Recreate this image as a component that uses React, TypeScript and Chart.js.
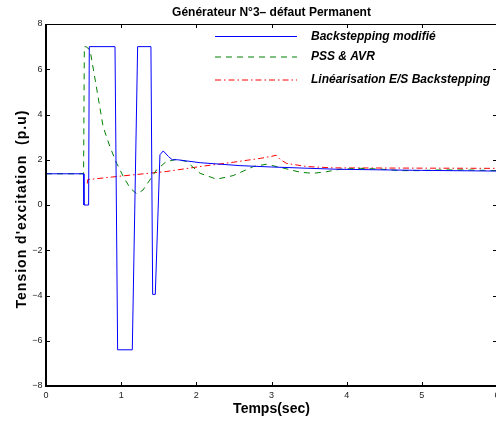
import React, { useEffect, useRef } from "react";
import { Chart, registerables } from "chart.js";

Chart.register(...registerables);

// ---- data ----
const titleText = "Générateur N°3– défaut Permanent";
const xLabel = "Temps(sec)";
const yLabel = "Tension d'excitation  (p.u)";
const seriesNames = ["Backstepping modifié", "PSS & AVR", "Linéarisation E/S Backstepping"];
const xTicks = [0, 1, 2, 3, 4, 5, 6];
const yTicks = [-8, -6, -4, -2, 0, 2, 4, 6, 8];

const tBack = [0, 0.5, 0.505, 0.567, 0.576, 0.918, 0.953, 1.148, 1.219, 1.396, 1.419, 1.454, 1.516, 1.56, 1.63, 1.68, 1.75, 2.05, 2.58, 3.0, 3.87, 5.0, 6.0];
const vBack = [1.38, 1.38, 0, 0, 7, 7, -6.4, -6.4, 7, 7, -3.95, -3.95, 2.22, 2.39, 2.14, 2.0, 2.0, 1.87, 1.74, 1.68, 1.58, 1.53, 1.5];

const tPss = [0, 0.5, 0.51, 0.53, 0.585, 0.67, 0.76, 0.85, 0.94, 1.03, 1.12, 1.21, 1.29, 1.38, 1.47, 1.6, 1.74, 1.87, 2.05, 2.27, 2.49, 2.76, 2.93, 3.11, 3.38, 3.55, 3.73, 3.91, 4.18, 4.44, 4.71, 4.97, 5.24, 5.59, 6.0];
const vPss = [1.38, 1.38, 7, 7, 6.86, 5.23, 3.46, 2.58, 1.84, 1.25, 0.74, 0.49, 0.66, 1.1, 1.55, 1.92, 2.02, 1.92, 1.4, 1.14, 1.3, 1.7, 1.8, 1.67, 1.45, 1.4, 1.47, 1.58, 1.62, 1.59, 1.52, 1.52, 1.55, 1.55, 1.52];

const tLin = [0.55, 0.555, 1.0, 1.6, 2.05, 2.49, 2.85, 3.0, 3.06, 3.12, 3.2, 3.47, 3.82, 6.0];
const vLin = [0.95, 1.12, 1.28, 1.48, 1.7, 1.89, 2.06, 2.15, 2.2, 2.0, 1.84, 1.7, 1.64, 1.62];

const colors = ["#0000ff", "#008000", "#ff0000"];
const dashes: number[][] = [[], [6, 5], [6, 3, 1.5, 3]];

const W = 520;
const H = 421;
const FONT = "'Liberation Sans', Arial, Helvetica, sans-serif";

const toPts = (t: number[], v: number[]) => t.map((x, i) => ({ x, y: v[i] }));

const framePlugin = {
  id: "matlabFrame",
  afterDatasetsDraw(chart: any) {
    const { ctx, chartArea: a, scales } = chart;
    const xs = scales.x;
    const ys = scales.y;
    ctx.save();
    ctx.strokeStyle = "#000";
    ctx.setLineDash([]);
    ctx.lineWidth = 1;
    ctx.beginPath();
    for (const t of xTicks) {
      const px = Math.round(xs.getPixelForValue(t)) + 0.5;
      ctx.moveTo(px, a.bottom);
      ctx.lineTo(px, a.bottom - 4);
      ctx.moveTo(px, a.top);
      ctx.lineTo(px, a.top + 4);
    }
    for (const v of yTicks) {
      const py = Math.round(ys.getPixelForValue(v)) + 0.5;
      ctx.moveTo(a.left, py);
      ctx.lineTo(a.left + 4, py);
      ctx.moveTo(a.right, py);
      ctx.lineTo(a.right - 4, py);
    }
    ctx.stroke();
    // frame
    ctx.lineWidth = 1;
    ctx.beginPath();
    ctx.moveTo(a.left, a.top + 0.5);
    ctx.lineTo(a.right, a.top + 0.5);
    ctx.moveTo(a.right + 0.5, a.top);
    ctx.lineTo(a.right + 0.5, a.bottom);
    ctx.stroke();
    ctx.lineWidth = 2;
    ctx.beginPath();
    ctx.moveTo(a.left, a.top);
    ctx.lineTo(a.left, a.bottom);
    ctx.lineTo(a.right + 1, a.bottom);
    ctx.stroke();

    // legend
    const ly = [36.5, 57, 80];
    for (let i = 0; i < 3; i++) {
      ctx.strokeStyle = colors[i];
      ctx.lineWidth = 1;
      ctx.setLineDash(dashes[i]);
      ctx.beginPath();
      ctx.moveTo(215, ly[i]);
      ctx.lineTo(297, ly[i]);
      ctx.stroke();
      ctx.setLineDash([]);
      ctx.fillStyle = "#000";
      ctx.font = `italic bold 12px ${FONT}`;
      ctx.textAlign = "left";
      ctx.textBaseline = "middle";
      ctx.fillText(seriesNames[i], 311, ly[i]);
    }

    // title
    ctx.fillStyle = "#000";
    ctx.font = `bold 12px ${FONT}`;
    ctx.textAlign = "center";
    ctx.textBaseline = "middle";
    ctx.fillText(titleText, (a.left + a.right) / 2, 13);
    // x label
    ctx.font = `bold 14px ${FONT}`;
    ctx.fillText(xLabel, (a.left + a.right) / 2, 409);
    // y label
    ctx.save();
    ctx.translate(22, (a.top + a.bottom) / 2 + 4);
    ctx.rotate(-Math.PI / 2);
    ctx.font = `bold 14px ${FONT}`;
    try { (ctx as any).letterSpacing = "1px"; } catch (e) {}
    ctx.fillText(yLabel, 0, 0);
    ctx.restore();
    ctx.restore();
  },
};

export default function App() {
  const ref = useRef<HTMLCanvasElement | null>(null);
  useEffect(() => {
    if (!ref.current) return;
    const tickFont = { family: FONT, size: 9 };
    const chart = new Chart(ref.current, {
      type: "line",
      data: {
        datasets: [
          { label: seriesNames[0], data: toPts(tBack, vBack), borderColor: colors[0], borderWidth: 1, borderDash: dashes[0], pointRadius: 0, tension: 0, fill: false },
          { label: seriesNames[1], data: toPts(tPss, vPss), borderColor: colors[1], borderWidth: 1, borderDash: dashes[1], pointRadius: 0, tension: 0, fill: false },
          { label: seriesNames[2], data: toPts(tLin, vLin), borderColor: colors[2], borderWidth: 1, borderDash: dashes[2], pointRadius: 0, tension: 0, fill: false },
        ],
      },
      options: {
        animation: false,
        responsive: false,
        maintainAspectRatio: false,
        devicePixelRatio: 1,
        layout: { padding: { left: 0, right: W - 497, top: 24, bottom: 0 } },
        plugins: { legend: { display: false }, tooltip: { enabled: false }, title: { display: false } },
        scales: {
          x: {
            type: "linear",
            min: 0,
            max: 6,
            afterBuildTicks: (s: any) => { s.ticks = xTicks.map((v) => ({ value: v })); },
            ticks: { font: tickFont, color: "#222", padding: 4, maxRotation: 0, autoSkip: false },
            grid: { display: false, drawTicks: false },
            border: { display: false },
            afterFit: (s: any) => { s.height = H - 386; },
          },
          y: {
            type: "linear",
            min: -8,
            max: 8,
            afterBuildTicks: (s: any) => { s.ticks = yTicks.map((v) => ({ value: v })); },
            ticks: {
              font: tickFont,
              color: "#222",
              padding: 3.5,
              autoSkip: false,
              callback: (v: any) => (Number(v) < 0 ? "\u2212" + Math.abs(Number(v)) : String(v)),
            },
            grid: { display: false, drawTicks: false },
            border: { display: false },
            afterFit: (s: any) => { s.width = 46; },
          },
        },
      },
      plugins: [framePlugin],
    });
    return () => chart.destroy();
  }, []);
  return (
    <div style={{ position: "fixed", left: 0, top: 0, width: 496, height: 421, overflow: "hidden", background: "#fff" }}>
      <canvas ref={ref} width={W} height={H} style={{ display: "block", width: W, height: H }} />
    </div>
  );
}
